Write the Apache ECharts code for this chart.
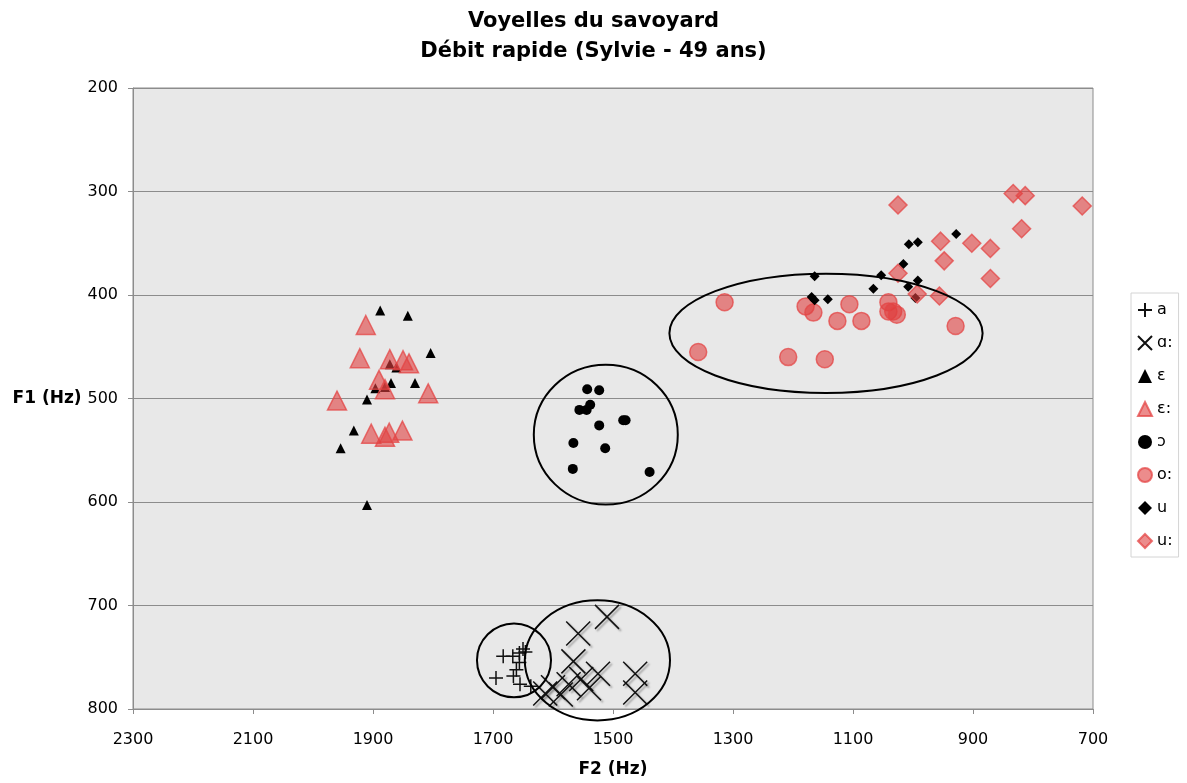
<!DOCTYPE html>
<html><head><meta charset="utf-8">
<script src="https://cdn.jsdelivr.net/npm/echarts@6/dist/echarts.min.js"></script>
<style>html,body{margin:0;padding:0;background:#fff}#c{width:1187px;height:783px}</style>
</head><body><div id="c"></div>
<script>
// [F2 (Hz), F1 (Hz)] pairs per vowel
const vowelNames = ['a', 'ɑ:', 'ɛ', 'ɛ:', 'ɔ', 'o:', 'u', 'u:'];
const pts_a = [[1683,749],[1667,749],[1656,746],[1650,742],[1646,745],[1656,755],[1661,762],[1695,770],[1666,768],[1655,776],[1637,778]];
const pts_aa = [[1510,711],[1558,727],[1566,754],[1525,766],[1463,766],[1463,784],[1600,779],[1587,786],[1574,776],[1553,771],[1613,785],[1540,780]];
const pts_e = [[1888,415],[1842,420],[1804,456],[1872,467],[1861,470],[1870,485],[1830,485],[1896,490],[1880,489],[1910,501],[1932,531],[1954,548],[1910,603]];
const pts_ee = [[1912,429],[1922,461],[1872,462],[1850,463],[1840,466],[1890,482],[1880,491],[1960,502],[1808,495],[1903,534],[1873,533],[1880,537],[1851,531]];
const pts_o = [[1543,491],[1523,492],[1556,511],[1544,511],[1538,506],[1483,521],[1479,521],[1523,526],[1566,543],[1513,548],[1567,568],[1439,571]];
const pts_oo = [[1314,407],[1358,455],[1179,411],[1166,417],[1106,409],[1126,425],[1086,425],[1041,407],[1041,416],[1033,416],[1027,419],[929,430],[1208,460],[1147,462]];
const pts_u = [[1164,382],[1053,381],[1016,370],[1066,394],[1008,392],[992,386],[996,403],[1169,402],[1164,405],[1142,404],[928,341],[1007,351],[992,349]];
const pts_uu = [[1025,313],[833,302],[813,304],[718,314],[819,336],[954,348],[902,350],[871,355],[948,367],[1025,379],[871,384],[993,399],[956,401]];
// ellipses: [centre F2, centre F1, radius F2 (Hz), radius F1 (Hz)]
const ellipses = [[1512,535,120,67.5],[1145,437,261,57.6],[1665,753,61.7,35.7],[1526,753,121,58]];
const xTicks = {min: 700, max: 2300, interval: 200};
const yTicks = {min: 200, max: 800, interval: 100};

const FONT = 'DejaVu Sans';
const RED_FILL = 'rgba(224,64,64,0.6)';
const RED_BORDER = 'rgba(228,70,70,0.75)';
const PLUS = 'path://M5,0L5,10M0,5L10,5';
const CROSS = 'path://M0,0L10,10M10,0L0,10';

function sc(name, data, symbol, size, style) {
  return {type: 'scatter', name, data, symbol, symbolSize: size, itemStyle: style,
    emphasis: {disabled: true}, animation: false};
}
const blackStyle = {color: '#000', opacity: 1};
const redStyle = {color: RED_FILL, borderColor: RED_BORDER, borderWidth: 1.5, opacity: 1};
const plusStyle = {color: 'transparent', borderColor: '#111', borderWidth: 1.5, opacity: 1};
const crossStyle = {color: 'transparent', borderColor: '#111', borderWidth: 1.5, opacity: 1,
  shadowColor: 'rgba(0,0,0,0.35)', shadowOffsetX: 2, shadowOffsetY: 2, shadowBlur: 2};

const series = [
  sc(vowelNames[0], pts_a, PLUS, 14, plusStyle),
  sc(vowelNames[1], pts_aa, CROSS, 24, crossStyle),
  sc(vowelNames[2], pts_e, 'triangle', 10, blackStyle),
  sc(vowelNames[3], pts_ee, 'triangle', 19, redStyle),
  sc(vowelNames[4], pts_o, 'circle', 10, blackStyle),
  sc(vowelNames[5], pts_oo, 'circle', 17, redStyle),
  sc(vowelNames[6], pts_u, 'diamond', 10, blackStyle),
  sc(vowelNames[7], pts_uu, 'diamond', 18, redStyle),
  {
    type: 'custom', data: ellipses, silent: true, clip: false, animation: false, z: 5,
    renderItem: function (params, api) {
      const cx = api.value(0), cy = api.value(1), rx = api.value(2), ry = api.value(3);
      const c = api.coord([cx, cy]);
      const e = api.coord([cx + rx, cy + ry]);
      return {type: 'ellipse', shape: {cx: c[0], cy: c[1], rx: Math.abs(e[0] - c[0]), ry: Math.abs(e[1] - c[1])},
        style: {fill: 'none', stroke: '#000', lineWidth: 2}};
    }
  }
];

const chart = echarts.init(document.getElementById('c'), null, {renderer: 'canvas'});
chart.setOption({
  backgroundColor: '#fff',
  animation: false,
  textStyle: {fontFamily: FONT},
  title: {
    text: 'Voyelles du savoyard\nDébit rapide (Sylvie - 49 ans)',
    left: 'center', top: 2,
    textStyle: {fontFamily: FONT, fontSize: 21, fontWeight: 'bold', color: '#000', lineHeight: 30}
  },
  grid: {left: 133, right: 94, top: 88, bottom: 72, show: true, backgroundColor: '#e8e8e8', borderColor: '#8c8c8c', borderWidth: 1},
  legend: {
    orient: 'vertical', left: 1131, top: 293,
    data: vowelNames,
    borderColor: '#d4d4d4', borderWidth: 1, padding: [9, 6, 8, 6],
    itemWidth: 14, itemHeight: 14, itemGap: 17,
    textStyle: {fontFamily: FONT, fontSize: 16, color: '#000'},
    selectedMode: false
  },
  xAxis: {
    type: 'value', inverse: true, min: xTicks.min, max: xTicks.max, interval: xTicks.interval,
    name: 'F2 (Hz)', nameLocation: 'middle', nameGap: 52,
    nameTextStyle: {fontFamily: FONT, fontSize: 17, fontWeight: 'bold', color: '#000'},
    axisLine: {lineStyle: {color: '#8c8c8c'}},
    axisTick: {show: true, length: 5, lineStyle: {color: '#8c8c8c'}},
    axisLabel: {fontFamily: FONT, fontSize: 16, color: '#000', margin: 23, formatter: v => String(v)},
    splitLine: {show: false}
  },
  yAxis: {
    type: 'value', inverse: true, min: yTicks.min, max: yTicks.max, interval: yTicks.interval,
    name: 'F1 (Hz)', nameLocation: 'middle', nameRotate: 0, nameGap: 51,
    nameTextStyle: {fontFamily: FONT, fontSize: 17, fontWeight: 'bold', color: '#000', padding: [6, 0, 0, 0]},
    axisLine: {show: true, lineStyle: {color: '#8c8c8c'}},
    axisTick: {show: true, length: 5, lineStyle: {color: '#8c8c8c'}},
    axisLabel: {fontFamily: FONT, fontSize: 16, color: '#000', margin: 15, formatter: v => String(v)},
    splitLine: {show: true, lineStyle: {color: '#8c8c8c', width: 1}}
  },
  series: series
});
</script></body></html>
